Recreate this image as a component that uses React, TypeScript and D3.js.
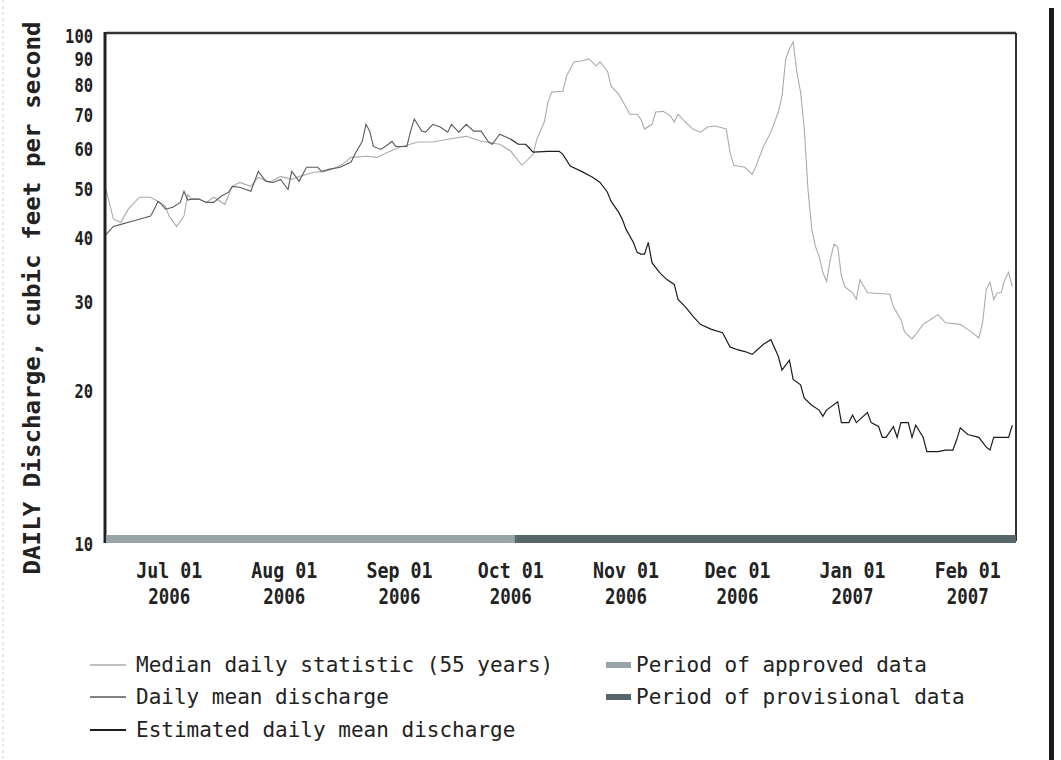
import React from "react";
import * as d3 from "d3";

// ---------- data ----------
const medianDates = [
  "2006-06-14","2006-06-16","2006-06-18","2006-06-20","2006-06-23","2006-06-26","2006-06-28","2006-06-30",
  "2006-07-01","2006-07-03","2006-07-05","2006-07-06","2006-07-07","2006-07-09","2006-07-11","2006-07-13",
  "2006-07-16","2006-07-18","2006-07-20","2006-07-23","2006-07-25","2006-07-28","2006-07-31",
  "2006-08-03","2006-08-05","2006-08-09","2006-08-12","2006-08-16","2006-08-19","2006-08-23","2006-08-26","2006-08-29",
  "2006-09-01","2006-09-06","2006-09-10","2006-09-14","2006-09-19","2006-09-23","2006-09-28",
  "2006-10-01","2006-10-04","2006-10-07","2006-10-08","2006-10-10","2006-10-11","2006-10-12","2006-10-15","2006-10-16",
  "2006-10-18","2006-10-20","2006-10-22","2006-10-24","2006-10-25","2006-10-27","2006-10-28","2006-10-30",
  "2006-11-01","2006-11-02","2006-11-04","2006-11-05","2006-11-06","2006-11-08","2006-11-09","2006-11-11",
  "2006-11-13","2006-11-14","2006-11-15","2006-11-17","2006-11-19","2006-11-21","2006-11-23","2006-11-25",
  "2006-11-28","2006-11-29","2006-11-30",
  "2006-12-03","2006-12-05","2006-12-06","2006-12-08","2006-12-10","2006-12-12","2006-12-13","2006-12-14",
  "2006-12-15","2006-12-16","2006-12-17","2006-12-18","2006-12-19","2006-12-20","2006-12-21","2006-12-22",
  "2006-12-23","2006-12-24","2006-12-25","2006-12-26","2006-12-27","2006-12-28","2006-12-29","2006-12-30",
  "2007-01-01","2007-01-02","2007-01-03","2007-01-05","2007-01-11","2007-01-12","2007-01-14","2007-01-15",
  "2007-01-17","2007-01-18","2007-01-20","2007-01-22","2007-01-24","2007-01-26","2007-01-30",
  "2007-02-02","2007-02-04","2007-02-05","2007-02-06","2007-02-07","2007-02-08","2007-02-09","2007-02-10",
  "2007-02-11","2007-02-12","2007-02-13"
];
const medianValues = [
  49.2,43.0,42.4,45.0,47.5,47.5,46.6,45.6,
  43.6,41.6,43.6,48.1,47.1,47.1,46.4,47.5,
  46.0,49.9,50.8,49.9,52.0,50.8,52.2,
  51.5,52.2,53.2,53.4,54.7,56.9,57.2,56.9,58.3,
  59.6,61.0,61.0,61.8,62.6,61.2,60.4,
  58.5,54.9,57.7,61.8,66.8,73.1,76.5,76.8,82.3,
  87.7,88.1,88.9,86.1,87.7,84.2,78.6,75.8,
  71.5,69.2,69.2,67.7,64.7,66.1,69.9,70.1,
  68.6,66.8,69.2,66.8,64.7,63.8,65.3,65.6,
  64.7,58.3,54.9,
  54.4,52.7,54.7,59.8,63.8,69.9,75.1,88.9,
  93.0,96.0,83.8,76.5,64.7,49.2,41.1,38.0,
  36.3,33.8,32.4,35.8,38.4,38.0,33.2,31.6,
  30.8,29.9,32.7,30.8,30.6,28.9,27.3,25.8,
  25.0,25.5,26.7,27.3,27.9,26.9,26.7,
  25.8,25.1,26.9,31.3,32.3,29.9,30.8,30.8,
  32.7,33.8,31.7
];

const dailyMeanDates = [
  "2006-06-14","2006-06-16","2006-06-18","2006-06-21","2006-06-23","2006-06-26","2006-06-27","2006-06-28",
  "2006-06-29","2006-06-30","2006-07-02","2006-07-04","2006-07-05","2006-07-06","2006-07-07","2006-07-09",
  "2006-07-11","2006-07-13","2006-07-15","2006-07-17","2006-07-18","2006-07-20","2006-07-23","2006-07-25",
  "2006-07-27","2006-07-29","2006-07-31","2006-08-02","2006-08-03","2006-08-05","2006-08-07","2006-08-10",
  "2006-08-11","2006-08-13","2006-08-16","2006-08-19","2006-08-20","2006-08-22","2006-08-23","2006-08-24",
  "2006-08-25","2006-08-27","2006-08-29","2006-08-30","2006-08-31","2006-09-03","2006-09-04","2006-09-05",
  "2006-09-07","2006-09-08","2006-09-10","2006-09-12","2006-09-14","2006-09-15","2006-09-17","2006-09-19",
  "2006-09-21","2006-09-23","2006-09-25","2006-09-26","2006-09-28","2006-10-01"
];
const dailyMeanValues = [
  40.1,41.6,42.0,42.6,43.0,43.6,45.0,46.6,
  46.0,45.0,45.4,46.4,48.8,46.9,47.1,47.1,
  46.4,46.4,47.7,48.6,49.9,49.7,48.8,53.4,
  51.1,50.8,51.5,49.2,53.4,51.1,54.4,54.4,
  53.4,53.9,54.4,55.7,57.7,61.2,66.1,64.1,
  59.8,59.0,60.4,61.2,59.8,59.8,64.1,67.7,
  64.1,63.8,66.1,65.3,63.8,66.1,63.8,66.1,
  64.1,64.1,61.0,60.4,63.2,61.8
];

const estimatedDates = [
  "2006-10-01","2006-10-03","2006-10-05","2006-10-07","2006-10-11","2006-10-14","2006-10-15","2006-10-17",
  "2006-10-20","2006-10-23","2006-10-25","2006-10-27","2006-10-28","2006-10-30","2006-10-31",
  "2006-11-01","2006-11-03","2006-11-04","2006-11-05","2006-11-06","2006-11-07","2006-11-08","2006-11-10",
  "2006-11-12","2006-11-14","2006-11-15","2006-11-17","2006-11-19","2006-11-21","2006-11-24","2006-11-27","2006-11-29",
  "2006-12-01","2006-12-03","2006-12-05","2006-12-08","2006-12-10","2006-12-12","2006-12-13","2006-12-15",
  "2006-12-16","2006-12-18","2006-12-19","2006-12-21","2006-12-23","2006-12-24","2006-12-25","2006-12-28",
  "2006-12-29","2006-12-31",
  "2007-01-01","2007-01-02","2007-01-05","2007-01-06","2007-01-08","2007-01-09","2007-01-10","2007-01-12",
  "2007-01-13","2007-01-14","2007-01-16","2007-01-17","2007-01-18","2007-01-20","2007-01-21","2007-01-24",
  "2007-01-26","2007-01-28","2007-01-29","2007-01-30",
  "2007-02-01","2007-02-04","2007-02-06","2007-02-07","2007-02-08","2007-02-12","2007-02-13"
];
const estimatedValues = [
  61.8,60.4,60.4,58.3,58.5,58.5,57.7,54.7,
  53.4,52.0,50.8,48.6,46.6,44.4,43.0,
  41.1,38.7,37.0,36.7,36.7,38.7,35.3,33.8,
  32.7,32.0,29.9,28.9,27.7,26.7,26.1,25.7,24.1,
  23.8,23.6,23.3,24.4,24.9,23.1,21.7,22.7,
  20.8,20.3,19.1,18.5,18.1,17.6,18.1,18.8,
  17.1,17.1,
  17.7,17.1,17.9,17.1,16.8,16.0,16.0,16.8,
  16.0,17.1,17.1,16.0,16.9,16.0,15.0,15.0,
  15.1,15.1,15.8,16.7,
  16.2,16.0,15.3,15.1,16.0,16.0,16.9
];

const domainDates = ["2006-06-14", "2007-02-14"];
const yTicks = [10, 20, 30, 40, 50, 60, 70, 80, 90, 100];
const xTickDates = ["2006-07-01","2006-08-01","2006-09-01","2006-10-01","2006-11-01","2006-12-01","2007-01-01","2007-02-01"];
const xTickMonths = ["Jul 01","Aug 01","Sep 01","Oct 01","Nov 01","Dec 01","Jan 01","Feb 01"];
const xTickYears = ["2006","2006","2006","2006","2006","2006","2007","2007"];
const periodNames = ["approved", "provisional"];
const periodStarts = ["2006-06-14", "2006-10-02"];
const periodEnds = ["2006-10-02", "2007-02-14"];
const legendLineLabels = ["Median daily statistic (55 years)", "Daily mean discharge", "Estimated daily mean discharge"];
const legendBarLabels = ["Period of approved data", "Period of provisional data"];
const yTitle = "DAILY Discharge, cubic feet per second";

// ---------- styling ----------
const W = 1061, H = 760;
const M = { left: 106, right: 1016, top: 33, bottom: 541 };
const MEDIAN_COLOR = "#ababab";
const DAILY_COLOR = "#5a5a5a";
const EST_COLOR = "#1c1c1c";
const PERIOD_COLORS = ["#98a4a7", "#56676b"];
const MONO = "'DejaVu Sans Mono', 'Liberation Mono', monospace";

const parse = d3.timeParse("%Y-%m-%d");

export default function App() {
  const x = d3.scaleTime()
    .domain(domainDates.map((d) => parse(d) as Date))
    .range([M.left, M.right]);
  const y = d3.scaleLog().domain([10, 100]).range([M.bottom, M.top]);

  const mk = (dates: string[], vals: number[]) =>
    dates.map((d, i) => ({ date: parse(d) as Date, value: vals[i] }));
  const line = d3.line<{ date: Date; value: number }>()
    .x((d) => x(d.date))
    .y((d) => y(d.value));

  const series = [
    { data: mk(medianDates, medianValues), color: MEDIAN_COLOR, w: 1.1 },
    { data: mk(dailyMeanDates, dailyMeanValues), color: DAILY_COLOR, w: 1.1 },
    { data: mk(estimatedDates, estimatedValues), color: EST_COLOR, w: 1.2 },
  ];

  const legendRowsY = [665, 697, 730];
  const legendColors = [MEDIAN_COLOR, DAILY_COLOR, EST_COLOR];

  return (
    <svg
      width={W}
      height={H}
      style={{ position: "absolute", left: 0, top: 0, background: "#fff" }}
    >
      <rect x={0} y={0} width={W} height={H} fill="#ffffff" />
      {/* scan edges */}
      <line x1={3} y1={0} x2={3} y2={H} stroke="#cfcfcf" strokeWidth={1} strokeDasharray="3 3" />
      <rect x={1049} y={8} width={5} height={H - 8} fill="#1a1a1a" />

      <defs>
        <clipPath id="plotclip">
          <rect x={M.left} y={M.top} width={M.right - M.left} height={M.bottom - M.top} />
        </clipPath>
      </defs>

      {/* series */}
      <g clipPath="url(#plotclip)">
        {series.map((s, i) => (
          <path key={i} d={line(s.data) || ""} fill="none" stroke={s.color} strokeWidth={s.w} />
        ))}
      </g>

      {/* frame */}
      <line x1={M.left} y1={M.top} x2={M.right} y2={M.top} stroke="#333" strokeWidth={2.5} />
      <line x1={M.right} y1={M.top} x2={M.right} y2={M.bottom} stroke="#333" strokeWidth={2} />
      <line x1={M.left - 1} y1={M.top - 1} x2={M.left - 1} y2={M.bottom + 2} stroke="#222" strokeWidth={3} />

      {/* period bar */}
      {periodNames.map((p, i) => {
        const x0 = x(parse(periodStarts[i]) as Date);
        const x1 = x(parse(periodEnds[i]) as Date);
        return (
          <rect key={p} x={x0} y={M.bottom - 6} width={x1 - x0} height={8} fill={PERIOD_COLORS[i]} />
        );
      })}

      {/* y tick labels */}
      {yTicks.map((t) => (
        <text
          key={t}
          x={93}
          y={y(t) + 3}
          textAnchor="end"
          dominantBaseline="central"
          fontFamily={MONO}
          fontWeight="bold"
          fontSize={20}
          textLength={String(t).length * 9.3}
          lengthAdjust="spacingAndGlyphs"
          fill="#222"
        >
          {t}
        </text>
      ))}

      {/* y title */}
      <text
        transform={`translate(32,${298}) rotate(-90)`}
        textAnchor="middle"
        dominantBaseline="central"
        fontFamily={MONO}
        fontWeight="bold"
        fontSize={23}
        textLength={553}
        lengthAdjust="spacingAndGlyphs"
        fill="#222"
      >
        {yTitle}
      </text>

      {/* x tick labels */}
      {xTickDates.map((d, i) => {
        const cx = x(parse(d) as Date);
        return (
          <g key={d}>
            <text
              x={cx}
              y={578}
              textAnchor="middle"
              fontFamily={MONO}
              fontWeight="bold"
              fontSize={21}
              textLength={66}
              lengthAdjust="spacingAndGlyphs"
              fill="#222"
            >
              {xTickMonths[i]}
            </text>
            <text
              x={cx}
              y={604}
              textAnchor="middle"
              fontFamily={MONO}
              fontWeight="bold"
              fontSize={21}
              textLength={42}
              lengthAdjust="spacingAndGlyphs"
              fill="#222"
            >
              {xTickYears[i]}
            </text>
          </g>
        );
      })}

      {/* legend: lines */}
      {legendLineLabels.map((lab, i) => (
        <g key={lab}>
          <line x1={90} x2={126} y1={legendRowsY[i]} y2={legendRowsY[i]} stroke={legendColors[i]} strokeWidth={i === 2 ? 2 : 1.5} />
          <text
            x={136}
            y={legendRowsY[i]}
            dominantBaseline="central"
            fontFamily={MONO}
            fontSize={21}
            fill="#222"
          >
            {lab}
          </text>
        </g>
      ))}
      {/* legend: bars */}
      {legendBarLabels.map((lab, i) => (
        <g key={lab}>
          <rect x={606} y={legendRowsY[i] - 3} width={25} height={6} fill={PERIOD_COLORS[i]} />
          <text
            x={636}
            y={legendRowsY[i]}
            dominantBaseline="central"
            fontFamily={MONO}
            fontSize={21}
            fill="#222"
          >
            {lab}
          </text>
        </g>
      ))}
    </svg>
  );
}
